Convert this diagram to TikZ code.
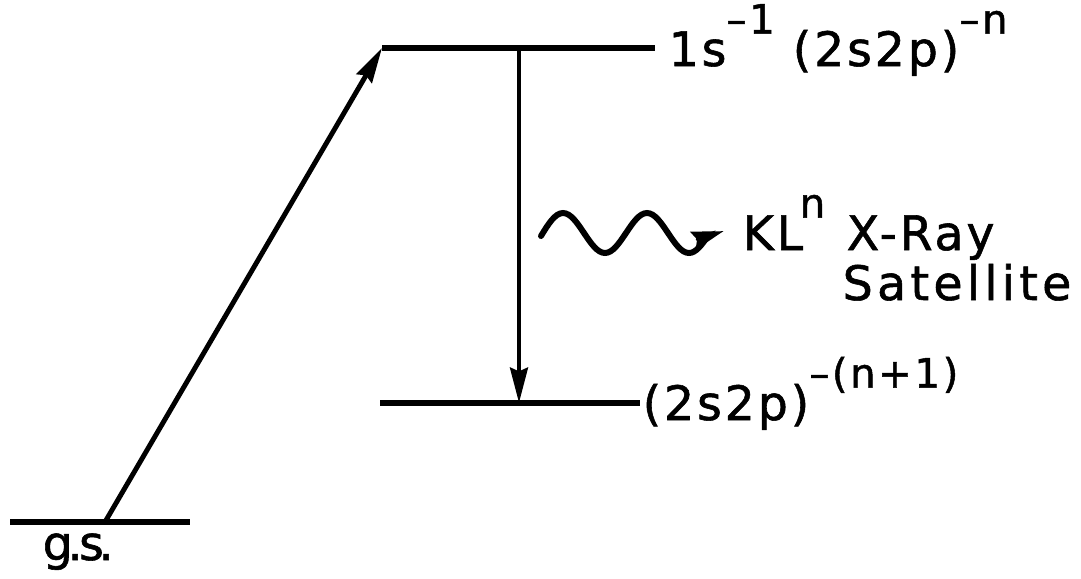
\documentclass[tikz,border=0pt]{standalone}
\usepackage{fontspec}
\setmainfont[LetterSpace=6,FakeBold=1.2]{DejaVu Sans}
\usetikzlibrary{arrows.meta}
\newcommand{\upsc}[1]{\raisebox{1.25ex}{\fontsize{11.5}{12}\selectfont #1}}
\begin{document}
\begin{tikzpicture}[x=0.01cm,y=-0.01cm,
  level/.style={line width=1.5pt},
  trans/.style={line width=1.4pt,-{Stealth[length=10pt,width=5pt,inset=1pt]}},
  lab/.style={inner sep=0pt,font=\fontsize{13.5}{15}\selectfont}]
\useasboundingbox (0,0) rectangle (1081,578);
% levels
\coordinate (gsL) at (10,522);
\coordinate (gsR) at (190,522);
\coordinate (gsM) at (105,522);
\coordinate (upL) at (382,48);
\coordinate (upR) at (655,48);
\coordinate (upM) at (519,48);
\coordinate (loL) at (380,403);
\coordinate (loR) at (640,403);
\coordinate (loM) at (519,403);
\draw[level] (gsL) -- (gsR);
\draw[level] (upL) -- (upR);
\draw[level] (loL) -- (loR);
% transitions
\draw[trans] (gsM) -- (upL);
\draw[trans] (upM) -- (loM);
% photon
\coordinate (wS) at (541,236);
\coordinate (wE) at (724,231);
\draw[line width=1.7pt,line cap=round,-{Stealth[length=9pt,width=5pt,inset=1pt]}]
  (wS) sin (563,213) cos (584,233) sin (605,253) cos (626,233)
  sin (647,213) cos (668,233) sin (689,253) cos (708,236) -- (wE);
% labels
\node[lab,anchor=base west] (tlab) at (668,66) {1s\upsc{–1} (2s2p)\upsc{–n}};
\node[lab,anchor=base west] (blab) at (642,420) {(2s2p)\upsc{–(n+1)}};
\node[lab,anchor=base west] (kl) at (742,250) {KL\kern-1pt\upsc{n}};
\node[lab,anchor=base west] (xr) at (846,250) {X-Ray};
\node[lab,anchor=base west] (sat) at (842,300) {\addfontfeature{LetterSpace=9}Satellite};
\node[lab,anchor=base west] (gs) at (42,560) {g\kern-1.5pt.\kern-1pt s\kern-1.5pt.};
\end{tikzpicture}
\end{document}
